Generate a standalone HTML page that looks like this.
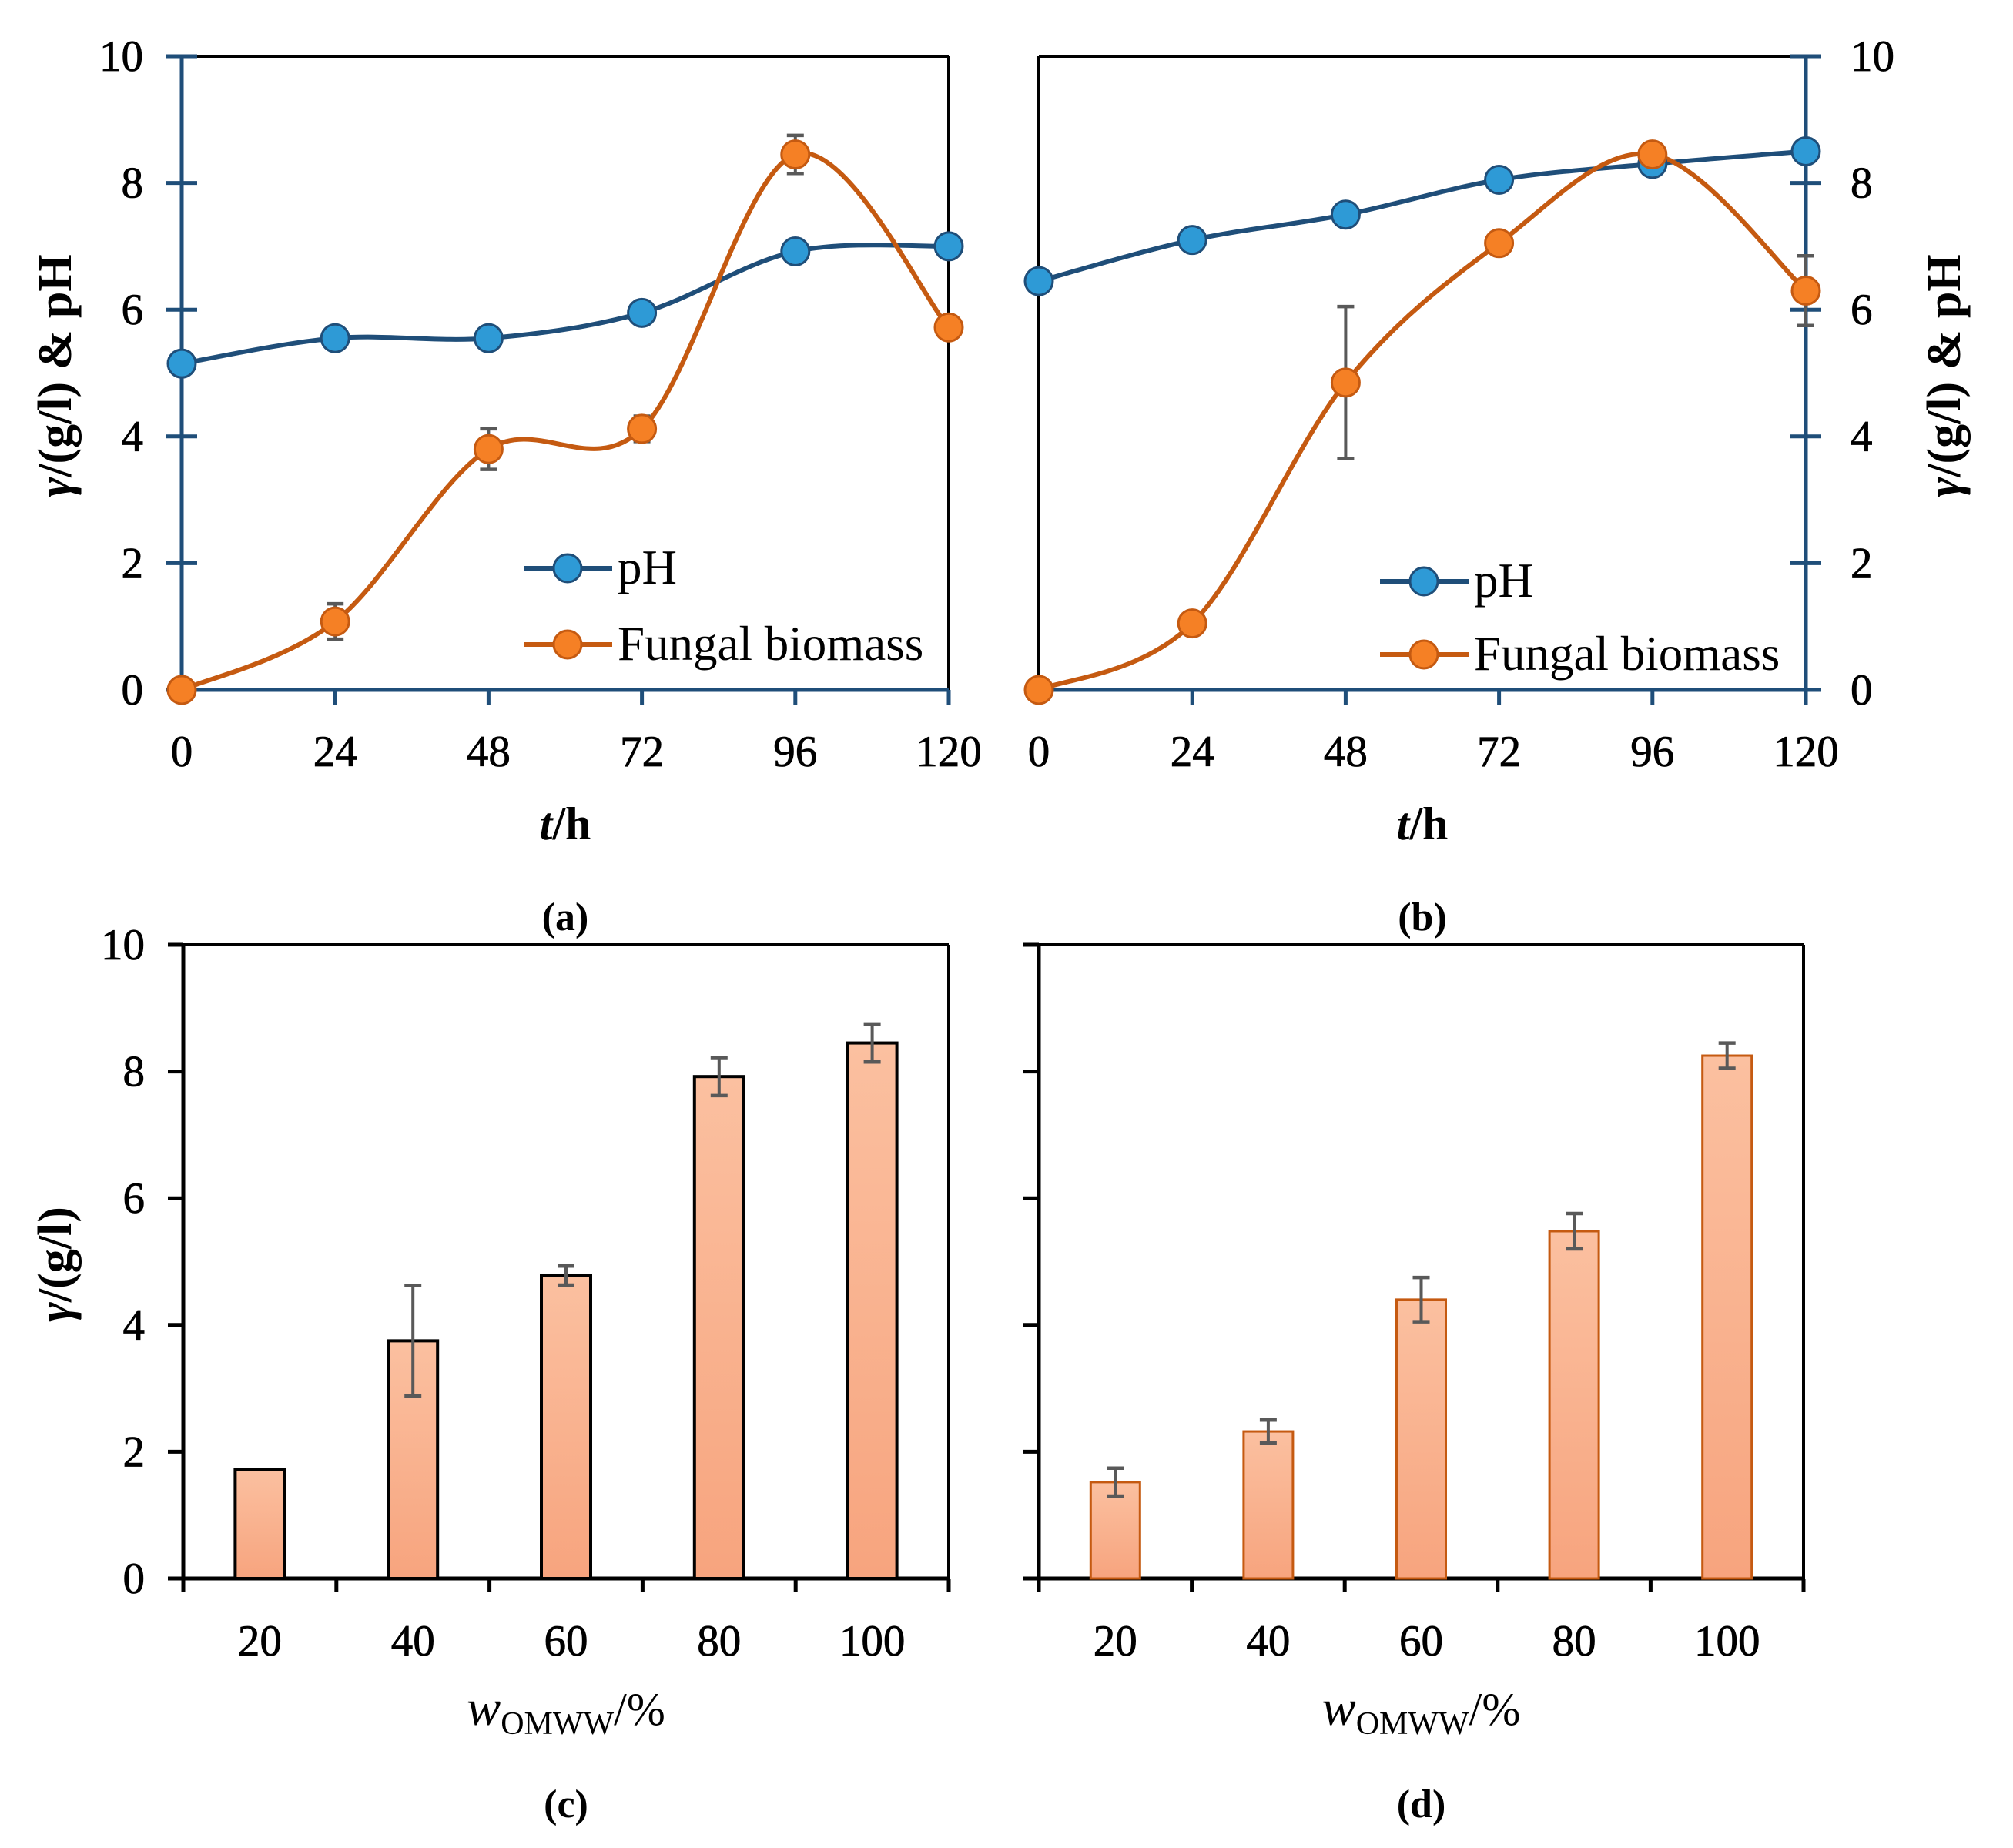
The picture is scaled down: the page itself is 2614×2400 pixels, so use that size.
<!DOCTYPE html>
<html><head><meta charset="utf-8">
<style>
html,body{margin:0;padding:0;background:#fff;}
svg{display:block;font-family:"Liberation Serif",serif;}
.tk{font-size:57px;stroke:#000;stroke-width:0.8px;}
</style></head>
<body>
<svg id="fig" width="2614" height="2400" viewBox="0 0 2614 2400" xmlns="http://www.w3.org/2000/svg">
<defs>
<linearGradient id="barGrad" x1="0" y1="0" x2="0" y2="1">
<stop offset="0" stop-color="#fbc0a0"/><stop offset="1" stop-color="#f7a47e"/>
</linearGradient>
</defs>
<g id="root"></g>
</svg>
<script>
// ---- data ----
const timeCats = [0, 24, 48, 72, 96, 120];
const yTicks = [0, 2, 4, 6, 8, 10];
const aPH = [5.15, 5.55, 5.55, 5.95, 6.92, 7.0];
const aBio = [0, 1.08, 3.8, 4.12, 8.45, 5.72];
const aBioErr = [0, 0.28, 0.32, 0.2, 0.3, 0];
const bPH = [6.45, 7.1, 7.5, 8.05, 8.3, 8.5];
const bPHErr = [0, 0, 0, 0.15, 0, 0];
const bBio = [0, 1.05, 4.85, 7.05, 8.45, 6.3];
const bBioErr = [0, 0, 1.2, 0, 0, 0.55];
const wCats = ["20", "40", "60", "80", "100"];
const cVals = [1.72, 3.75, 4.78, 7.92, 8.45];
const cErr = [0, 0.87, 0.15, 0.3, 0.3];
const dVals = [1.52, 2.32, 4.4, 5.48, 8.25];
const dErr = [0.22, 0.18, 0.35, 0.28, 0.2];

const NS = "http://www.w3.org/2000/svg";
const root = document.getElementById('root');
function mk(tag, attrs, parent, txt) {
  const e = document.createElementNS(NS, tag);
  for (const k in attrs) e.setAttribute(k, attrs[k]);
  if (txt !== undefined) e.textContent = txt;
  (parent || root).appendChild(e);
  return e;
}
const NAVY = "#1f4e79", BROWN = "#c55a11";

function smoothPath(pts) {
  let d = "M" + pts[0][0] + "," + pts[0][1];
  for (let i = 0; i < pts.length - 1; i++) {
    const p0 = pts[i - 1] || pts[i], p1 = pts[i], p2 = pts[i + 1], p3 = pts[i + 2] || p2;
    const t = 1 / 6;
    const c1x = p1[0] + (p2[0] - p0[0]) * t, c1y = p1[1] + (p2[1] - p0[1]) * t;
    const c2x = p2[0] - (p3[0] - p1[0]) * t, c2y = p2[1] - (p3[1] - p1[1]) * t;
    d += " C" + c1x + "," + c1y + " " + c2x + "," + c2y + " " + p2[0] + "," + p2[1];
  }
  return d;
}

function errBar(g, x, y1, y2) {
  mk('line', {x1: x, y1: y1, x2: x, y2: y2, stroke: "#595959", "stroke-width": 4}, g);
  mk('line', {x1: x - 11, y1: y1, x2: x + 11, y2: y1, stroke: "#595959", "stroke-width": 4.5}, g);
  mk('line', {x1: x - 11, y1: y2, x2: x + 11, y2: y2, stroke: "#595959", "stroke-width": 4.5}, g);
}

function linePanel(opt) {
  const g = mk('g', {});
  
  
  const L = opt.L, R = opt.R, T = 73, B = 896;
  const sx = v => L + (v - 0) / 120 * (R - L);
  const sy = v => B - v / 10 * (B - T);
  const yAxX = opt.axisRight ? R : L;
  const other = opt.axisRight ? L : R;
  mk('line', {x1: L, y1: T, x2: R, y2: T, stroke: "#000", "stroke-width": 4}, g);
  mk('line', {x1: other, y1: T, x2: other, y2: B, stroke: "#000", "stroke-width": 4}, g);
  const ya = mk('line', {x1: yAxX, y1: T, x2: yAxX, y2: B, stroke: NAVY, "stroke-width": 5}, g);
   
  const xa = mk('line', {x1: L, y1: B, x2: R, y2: B, stroke: NAVY, "stroke-width": 5}, g);
   
  yTicks.forEach(v => {
    mk('line', {x1: yAxX - 20, y1: sy(v), x2: yAxX + 20, y2: sy(v), stroke: NAVY, "stroke-width": 5}, g);
    const t = mk('text', {class: "tk", x: opt.axisRight ? R + 58 : L - 50, y: sy(v) + 19, "text-anchor": opt.axisRight ? "start" : "end"}, g, String(v));
     
  });
  timeCats.forEach(v => {
    mk('line', {x1: sx(v), y1: B, x2: sx(v), y2: B + 20, stroke: NAVY, "stroke-width": 5}, g);
    const t = mk('text', {class: "tk", x: sx(v), y: 995, "text-anchor": "middle"}, g, String(v));
     
  });
  const xt = mk('text', {x: (L + R) / 2, y: 1090, "font-size": 60, "font-weight": "bold", "text-anchor": "middle"}, g);
   
  mk('tspan', {"font-style": "italic"}, xt, "t");
  mk('tspan', {}, xt, "/h");
  const yt = mk('text', {x: 0, y: 0, "font-size": 62, "font-weight": "bold", "text-anchor": "middle",
    transform: "translate(" + opt.ytX + ",488) rotate(-90)"}, g);
   
  mk('tspan', {"font-style": "italic"}, yt, "γ");
  mk('tspan', {}, yt, "/(g/l) & pH");
  const cap = mk('text', {x: (L + R) / 2, y: 1208, "font-size": 52, "font-weight": "bold", "text-anchor": "middle"}, g, opt.cap);
   

  const series = [
    {vals: opt.ph, err: opt.phErr, line: NAVY, fill: "#2e9ad6", name: "ph"},
    {vals: opt.bio, err: opt.bioErr, line: BROWN, fill: "#f58025", name: "biomass"}
  ];
  series.forEach(s => {
    const pts = timeCats.map((c, i) => [sx(c), sy(s.vals[i])]);
    const p = mk('path', {d: smoothPath(pts), fill: "none", stroke: s.line, "stroke-width": 6}, g);
     
  });
  series.forEach(s => {
    timeCats.forEach((c, i) => {
      if (s.err && s.err[i] > 0) errBar(g, sx(c), sy(s.vals[i] + s.err[i]), sy(s.vals[i] - s.err[i]));
      const m = mk('circle', {cx: sx(c), cy: sy(s.vals[i]), r: 18, fill: s.fill, stroke: s.line, "stroke-width": 3}, g);
       
    });
  });
  const lg = mk('g', {}, g);
   
  const lx = opt.legX, ly = opt.legY;
  [[NAVY, "#2e9ad6", "pH", 0], [BROWN, "#f58025", "Fungal biomass", opt.legGap]].forEach(e => {
    const en = mk('g', {}, lg);
     
    mk('line', {x1: lx, y1: ly + e[3], x2: lx + 115, y2: ly + e[3], stroke: e[0], "stroke-width": 6}, en);
    mk('circle', {cx: lx + 57, cy: ly + e[3], r: 18, fill: e[1], stroke: e[0], "stroke-width": 3}, en);
    mk('text', {x: lx + 122, y: ly + e[3] + 20, "font-size": 63}, en, e[2]);
  });
}

function barPanel(opt) {
  const g = mk('g', {});
  
  
  const L = opt.L, R = opt.R, T = 1227, B = 2050;
  const bw = (R - L) / wCats.length;
  const sx = i => L + bw * (i + 0.5);
  const sy = v => B - v / 10 * (B - T);
  mk('line', {x1: L, y1: T, x2: R, y2: T, stroke: "#000", "stroke-width": 4}, g);
  mk('line', {x1: R, y1: T, x2: R, y2: B + 18, stroke: "#000", "stroke-width": 4}, g);
  const ya = mk('line', {x1: L, y1: T, x2: L, y2: B + 18, stroke: "#000", "stroke-width": 5}, g);
   
  const xa = mk('line', {x1: L - 20, y1: B, x2: R, y2: B, stroke: "#000", "stroke-width": 5}, g);
   
  yTicks.forEach(v => {
    mk('line', {x1: L - 20, y1: sy(v), x2: L, y2: sy(v), stroke: "#000", "stroke-width": 5}, g);
    if (opt.labels) {
      const t = mk('text', {class: "tk", x: L - 50, y: sy(v) + 19, "text-anchor": "end"}, g, String(v));
       
    }
  });
  for (let i = 0; i <= wCats.length; i++) {
    mk('line', {x1: L + bw * i, y1: B, x2: L + bw * i, y2: B + 18, stroke: "#000", "stroke-width": 5}, g);
  }
  wCats.forEach((c, i) => {
    const t = mk('text', {class: "tk", x: sx(i), y: 2150, "text-anchor": "middle"}, g, c);
     
    const v = opt.vals[i];
    const r = mk('rect', {x: sx(i) - 32, y: sy(v), width: 64, height: B - sy(v), fill: "url(#barGrad)",
      stroke: opt.stroke, "stroke-width": opt.sw}, g);
     
    if (opt.err[i] > 0) errBar(g, sx(i), sy(v + opt.err[i]), sy(v - opt.err[i]));
  });
  const xt = mk('text', {x: (L + R) / 2, y: 2240, "font-size": 60, "text-anchor": "middle"}, g);
   
  mk('tspan', {"font-style": "italic", "font-size": 66}, xt, "w");
  mk('tspan', {"font-size": 42, dy: 12}, xt, "OMWW");
  mk('tspan', {dy: -12}, xt, "/%");
  if (opt.labels) {
    const yt = mk('text', {x: 0, y: 0, "font-size": 62, "font-weight": "bold", "text-anchor": "middle",
      transform: "translate(92,1642) rotate(-90)"}, g);
     
    mk('tspan', {"font-style": "italic"}, yt, "γ");
    mk('tspan', {}, yt, "/(g/l)");
  }
  const cap = mk('text', {x: (L + R) / 2, y: 2360, "font-size": 52, "font-weight": "bold", "text-anchor": "middle"}, g, opt.cap);
   
}

linePanel({name: "panel-a", L: 236, R: 1232, axisRight: false, ytX: 92, cap: "(a)",
  ph: aPH, phErr: null, bio: aBio, bioErr: aBioErr, legX: 680, legY: 738, legGap: 99});
linePanel({name: "panel-b", L: 1349, R: 2345, axisRight: true, ytX: 2545, cap: "(b)",
  ph: bPH, phErr: bPHErr, bio: bBio, bioErr: bBioErr, legX: 1792, legY: 755, legGap: 95});
barPanel({name: "panel-c", L: 238, R: 1232, labels: true, cap: "(c)", vals: cVals, err: cErr, stroke: "#000", sw: 4});
barPanel({name: "panel-d", L: 1349, R: 2342, labels: false, cap: "(d)", vals: dVals, err: dErr, stroke: "#c55a11", sw: 3});
</script>
</body></html>
